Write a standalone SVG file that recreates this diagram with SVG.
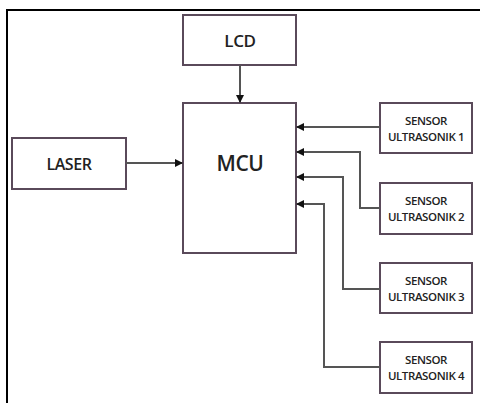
<svg xmlns="http://www.w3.org/2000/svg" width="480" height="403" viewBox="0 0 480 403">
<defs>
<style>
.box{fill:#fff;stroke:#5a4a5a;stroke-width:2}
.t{font-family:"Open Sans","Liberation Sans",sans-serif;fill:#222;text-anchor:middle;font-weight:600;letter-spacing:-0.4px}
.c{fill:none;stroke:#555;stroke-width:2}
</style>
<marker id="ah" markerWidth="8" markerHeight="8" refX="7" refY="4" orient="auto" markerUnits="userSpaceOnUse">
<path d="M0,0 L8,4 L0,8 Z" fill="#111"/>
</marker>
</defs>
<rect x="0" y="0" width="480" height="403" fill="#fff"/>
<path d="M7,403 V10 H480" fill="none" stroke="#000" stroke-width="2"/>
<g id="lcd"><rect class="box" x="183" y="15" width="113" height="50"/><text class="t" x="240" y="47" font-size="17">LCD</text></g>
<g id="laser"><rect class="box" x="12" y="138" width="114" height="51"/><text class="t" x="69" y="170" font-size="16">LASER</text></g>
<g id="mcu"><rect class="box" x="183" y="103" width="113" height="150"/><text class="t" x="240" y="171" font-size="21">MCU</text></g>
<g id="s1"><rect class="box" x="380" y="103" width="92" height="50"/><text class="t" x="426" y="125" font-size="11.5">SENSOR</text><text class="t" x="426" y="141" font-size="11.5">ULTRASONIK 1</text></g>
<g id="s2"><rect class="box" x="380" y="183" width="92" height="51"/><text class="t" x="426" y="205" font-size="11.5">SENSOR</text><text class="t" x="426" y="221" font-size="11.5">ULTRASONIK 2</text></g>
<g id="s3"><rect class="box" x="380" y="263" width="92" height="50"/><text class="t" x="426" y="285" font-size="11.5">SENSOR</text><text class="t" x="426" y="301" font-size="11.5">ULTRASONIK 3</text></g>
<g id="s4"><rect class="box" x="380" y="342" width="92" height="51"/><text class="t" x="426" y="364" font-size="11.5">SENSOR</text><text class="t" x="426" y="380" font-size="11.5">ULTRASONIK 4</text></g>
<g id="connectors">
<path class="c" d="M240,65 V102" marker-end="url(#ah)"/>
<path class="c" d="M126,163 H182" marker-end="url(#ah)"/>
<path class="c" d="M380,127 H297" marker-end="url(#ah)"/>
<path class="c" d="M380,208 H360 V152 H297" marker-end="url(#ah)"/>
<path class="c" d="M380,289 H343 V177 H297" marker-end="url(#ah)"/>
<path class="c" d="M380,367 H324 V204 H297" marker-end="url(#ah)"/>
</g>
</svg>
